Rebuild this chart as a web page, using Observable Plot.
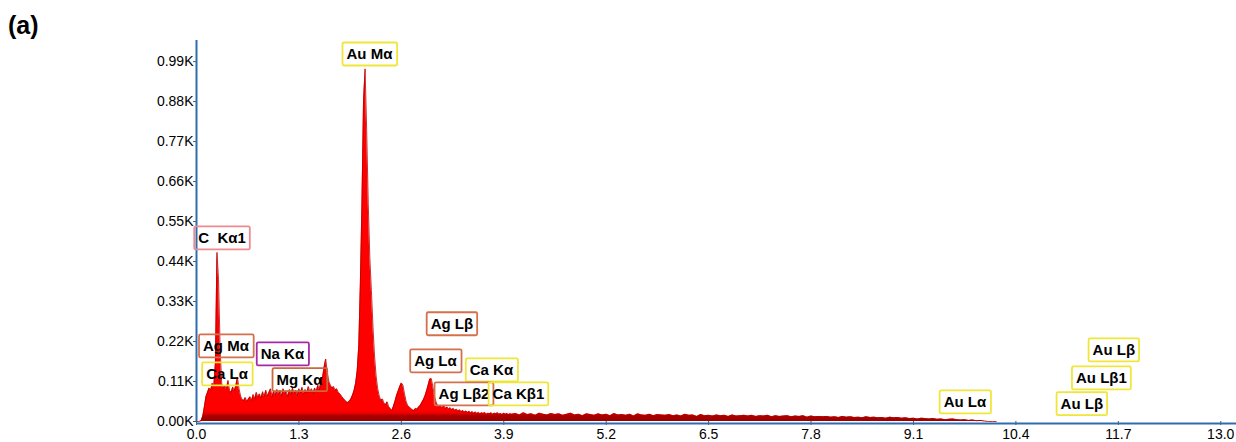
<!DOCTYPE html>
<html><head><meta charset="utf-8">
<script src="https://cdn.jsdelivr.net/npm/d3@7"></script>
<script src="https://cdn.jsdelivr.net/npm/@observablehq/plot@0.6"></script>
<style>
body{margin:0;background:#fff;}
#wrap{position:relative;width:1236px;height:442px;}
#panel{position:absolute;left:8px;top:13px;font:bold 25px "Liberation Sans",Arial,sans-serif;line-height:1;}
</style></head><body>
<div id="wrap"><div id="panel">(a)</div></div>
<script>
// Axis ticks
const xTicks = [0.0, 1.3, 2.6, 3.9, 5.2, 6.5, 7.8, 9.1, 10.4, 11.7, 13.0];
const yTicks = [0, 110, 220, 330, 440, 550, 660, 770, 880, 990];

// Spectrum: channel grid (keV) and counts
const lowStart = 0.0, lowStep = 0.02;
const lowCounts = [
  0,0,0,3,15,40,68,80,92,86,
  105,98,160,465,390,200,105,92,100,88,
  113,86,80,95,84,100,121,90,70,60,
  58,66,54,62,68,58,74,62,80,66,
  76,64,82,68,86,70,80,90,68,84,
  72,88,74,86,70,90,76,84,68,88,
  74,92,76,86,72,90,78,94,74,88,
  78,96,80,90,76,92,82,100,88,110,
  120,150,172,135,110,100,92,96,86,90,
  80,76,70,64,60,54,52,56,62,72,
  85,105,140,210,380,600,880,970,800,600,
  450,360,260,180,125,90,70,58,62,50,
  46,54,40,36,30,42,56,72,84,96,
  106,100,76,56,44,40,36,32,30,36,
  34,40,44,52,60,70,84,100,116,118,
  96,70,54,44,40,42,38,44,36,40,
  34,38,32,36,30,34,28,32,27,30,
  26,29,25,28,24,27,23,26,22,25,
  21,24,22,25,20,23,21,24,20,23,
  21,24,20,22,19,23,20,22,19,21,20
];
const tailStart = 4.05, tailStep = 0.05;
const tailCounts = [
  22,18,24,19,21,17,23,20,18,22,19,21,17,20,23,18,20,16,21,
  19,17,21,18,20,16,22,18,19,17,20,15,21,18,17,20,16,19,18,17,
  19,16,18,15,20,17,18,14,19,16,17,15,18,16,17,14,18,15,16,17,
  15,17,14,16,15,17,13,16,14,15,16,13,15,14,16,12,15,13,14,13,
  14,12,13,11,14,12,13,11,12,10,13,11,12,10,11,9,12,10,11,9,
  10,8,9,7,9,8,7,8,6,7,5,6,7,5,4,5,3,4,2,3,
  1,0,0,0
];

// Peak labels
const peakLabels = ["Au Mα","C\u00a0\u00a0Kα1","Ag Mα","Ca Lα","Na Kα","Mg Kα","Ag Lβ","Ag Lα","Ca Kα","Ag Lβ2","Ca Kβ1","Au Lα","Au Lβ","Au Lβ1","Au Lβ"];
const labelEnergy = [2.195,0.324,0.374,0.387,1.091,1.307,3.242,3.033,3.744,3.395,4.086,9.753,11.237,11.485,11.643];
const labelCount = [1009,503,206,129,184,113,267,165,140,74,74,52,47,118,195];
const labelColor = ["#f0e63a","#ef8a90","#d4714c","#f0e63a","#a62aa8","#c8693f","#d4714c","#d4714c","#f0e63a","#d4714c","#f0e63a","#f0e63a","#f0e63a","#f0e63a","#f0e63a"];

const spectrum = [];
lowCounts.forEach((c, i) => spectrum.push({e: +(lowStart + i * lowStep).toFixed(3), c}));
tailCounts.forEach((c, i) => spectrum.push({e: +(tailStart + i * tailStep).toFixed(3), c}));
const labels = peakLabels.map((t, i) => ({text: t, e: labelEnergy[i], c: labelCount[i], color: labelColor[i]}));

const font = '"Liberation Sans", Arial, sans-serif';
const plot = Plot.plot({
  width: 1236, height: 442,
  marginLeft: 196, marginRight: 0, marginTop: 40, marginBottom: 21,
  x: {domain: [0, 13.2]},
  y: {domain: [0, 1048]},
  style: {fontFamily: font, fontSize: "14px", color: "#000", background: "#fff", overflow: "visible"},
  marks: [
    Plot.areaY(spectrum, {x: "e", y: "c", fill: "url(#specGrad)", curve: "linear"}),
    Plot.lineY(spectrum, {x: "e", y: "c", stroke: "#b80000", strokeWidth: 0.8}),
    Plot.axisY({ticks: yTicks, tickFormat: d => (d / 1000).toFixed(2) + "K", tickSize: 3, tickPadding: 0, label: null, stroke: "#555"}),
    Plot.axisX({ticks: xTicks, tickFormat: d => d.toFixed(1), tickSize: 4, tickPadding: 4, label: null, stroke: "#555"}),
    Plot.ruleX([0], {stroke: "#2e6db0", strokeWidth: 2}),
    Plot.ruleY([0], {stroke: "#2e6db0", strokeWidth: 2, dy: 2}),
    Plot.text(labels, {x: "e", y: "c", text: "text", fontWeight: "bold", fontSize: 15, fill: "#000"})
  ]
});
document.getElementById("wrap").appendChild(plot);

// gradient for the spectrum fill (bright red body, dark red base band)
const ns = "http://www.w3.org/2000/svg";
const ys = plot.scale("y");
const defs = document.createElementNS(ns, "defs");
const grad = document.createElementNS(ns, "linearGradient");
grad.setAttribute("id", "specGrad");
grad.setAttribute("gradientUnits", "userSpaceOnUse");
grad.setAttribute("x1", 0); grad.setAttribute("x2", 0);
grad.setAttribute("y1", ys.apply(32)); grad.setAttribute("y2", ys.apply(0));
[["0", "#ff0000"], ["0.3", "#f00000"], ["0.55", "#a80000"], ["1", "#980000"]].forEach(([o, c]) => {
  const s = document.createElementNS(ns, "stop");
  s.setAttribute("offset", o); s.setAttribute("stop-color", c);
  grad.appendChild(s);
});
defs.appendChild(grad);
plot.insertBefore(defs, plot.firstChild);

// boxes around peak labels
const texts = plot.querySelectorAll('g[aria-label="text"] text');
texts.forEach((t, i) => {
  const b = t.getBBox();
  const r = document.createElementNS(ns, "rect");
  r.setAttribute("x", b.x - 4); r.setAttribute("y", b.y - 3);
  r.setAttribute("width", b.width + 8); r.setAttribute("height", b.height + 6);
  r.setAttribute("fill", "none");
  r.setAttribute("stroke", labels[i].color);
  r.setAttribute("stroke-width", 1.8);
  r.setAttribute("rx", 1.5);
  const tr = t.getAttribute("transform");
  if (tr) r.setAttribute("transform", tr);
  t.parentNode.insertBefore(r, t);
});
</script></body></html>
